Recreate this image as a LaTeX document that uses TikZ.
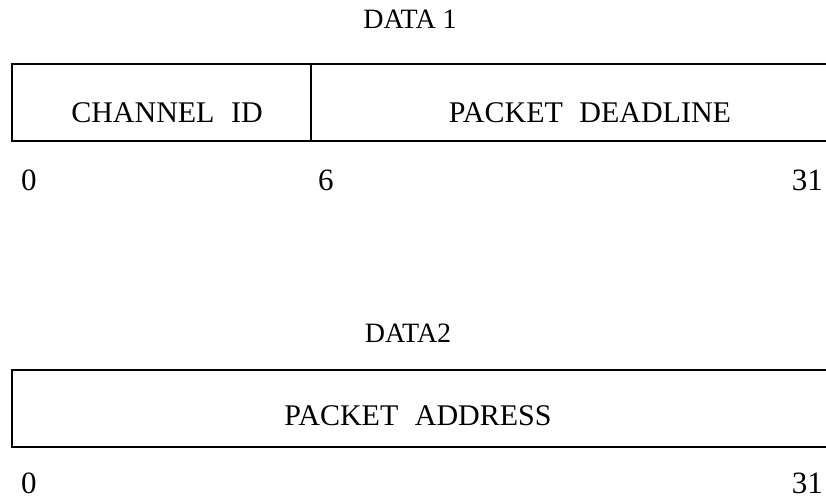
\documentclass[tikz,border=0pt]{standalone}
\usepackage{fontspec}
\setmainfont{Liberation Serif}
\begin{document}
\begin{tikzpicture}[x=1pt,y=-1pt,
  field/.style={draw, line width=2pt, inner sep=0pt, outer sep=0pt},
  lbl/.style={anchor=base, inner sep=0pt, font=\fontsize{30}{36}\selectfont},
  ttl/.style={anchor=base, inner sep=0pt, font=\fontsize{28}{34}\selectfont},
  bitnum/.style={anchor=base, inner sep=0pt, font=\fontsize{31}{36}\selectfont}]
\useasboundingbox (0,0) rectangle (826,499);
\clip (0,0) rectangle (826,499);
% DATA 1
\node[ttl] (d1) at (410,28) {DATA 1};
\node[field, minimum width=299pt, minimum height=77pt] (f11) at (161.5,102.5) {};
\node[field, minimum width=560pt, minimum height=77pt] (f12) at (591,102.5) {};
\node[lbl] (t11) at (167,122) {CHANNEL\hspace{0.55em}ID};
\node[lbl] (t12) at (590,122) {PACKET\hspace{0.55em}DEADLINE};
\node[bitnum, anchor=base west] (n10) at (21,190) {0};
\node[bitnum, anchor=base west] (n16) at (318,190) {6};
\node[bitnum, anchor=base east] (n131) at (823,190) {31};
% DATA2
\node[ttl] (d2) at (408,342) {DATA2};
\node[field, minimum width=850pt, minimum height=77pt] (f21) at (437,408.5) {};
\node[lbl] (t21) at (418,425) {PACKET\hspace{0.55em}ADDRESS};
\node[bitnum, anchor=base west] (n20) at (21,493) {0};
\node[bitnum, anchor=base east] (n231) at (823,493) {31};
\end{tikzpicture}
\end{document}
